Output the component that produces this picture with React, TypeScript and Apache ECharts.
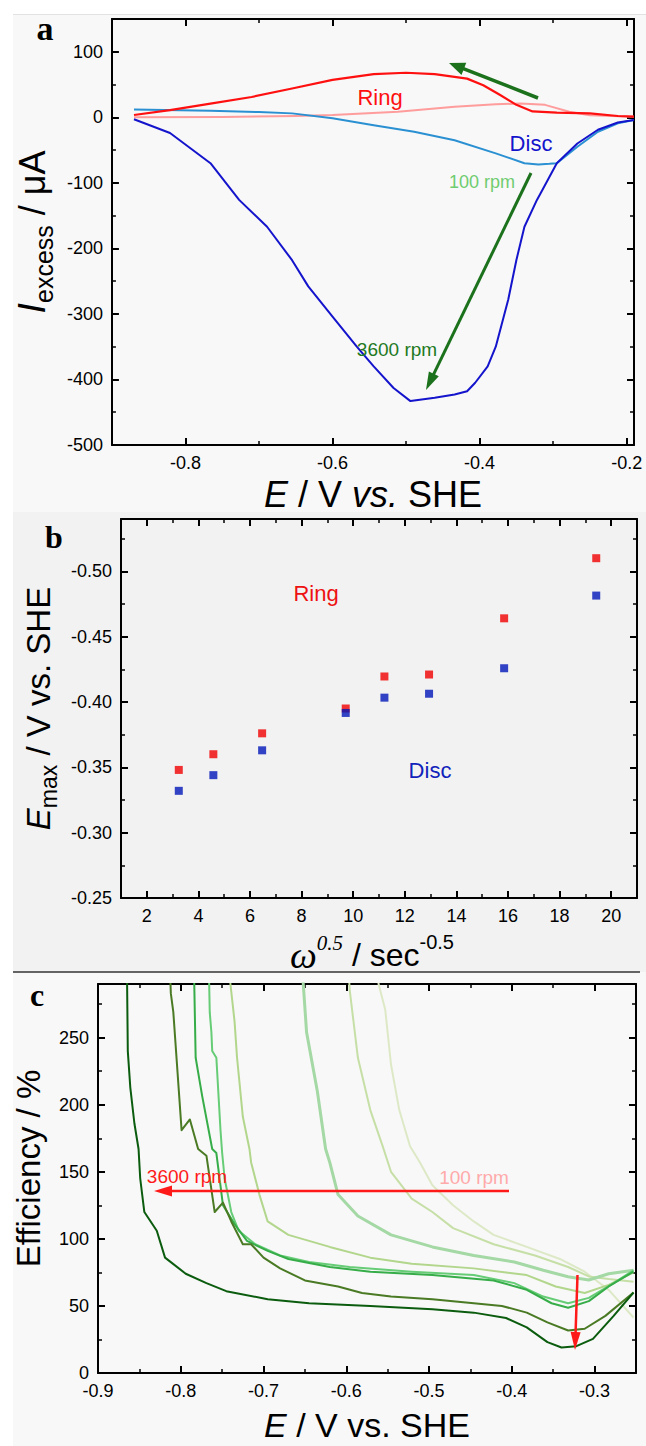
import React, { useEffect, useRef } from 'react';
import * as echarts from 'echarts';

// ---------- Panel a : excess current vs potential ----------
const ringFastE = [-0.870, -0.821, -0.766, -0.710, -0.655, -0.600, -0.544, -0.500, -0.461, -0.417, -0.395, -0.372, -0.350, -0.328, -0.295, -0.250, -0.212, -0.190];
const ringFastI = [3.5, 11, 21, 31, 44, 57, 66, 68, 66, 59, 49, 34, 19, 9, 7, 6, 2, 1];

const ringSlowE = [-0.870, -0.750, -0.650, -0.600, -0.511, -0.434, -0.378, -0.344, -0.311, -0.278, -0.250, -0.190];
const ringSlowI = [0, 0.5, 2, 3.5, 8.5, 16, 20, 21, 19, 8.5, 3, 1];

const discSlowE = [-0.870, -0.766, -0.700, -0.655, -0.600, -0.544, -0.489, -0.434, -0.378, -0.339, -0.320, -0.305, -0.295, -0.267, -0.239, -0.212, -0.190];
const discSlowI = [12, 10, 8, 6, -1.5, -12, -22, -35, -55, -70, -72, -71, -70, -45, -22, -9, -4];

const discFastE = [-0.870, -0.821, -0.766, -0.727, -0.689, -0.655, -0.633, -0.600, -0.567, -0.544, -0.517, -0.494, -0.461, -0.434, -0.417, -0.406, -0.389, -0.378, -0.361, -0.350, -0.339, -0.322, -0.317, -0.295, -0.267, -0.239, -0.212, -0.190];
const discFastI = [-3, -24, -70, -126, -167, -218, -258, -304, -350, -380, -413, -433, -428, -423, -418, -405, -380, -350, -278, -218, -167, -126, -116, -70, -40, -19, -8, -4];

const aXTicks = [-0.8, -0.6, -0.4, -0.2];
const aXMinor = [-0.7, -0.5, -0.3];
const aYTicks = [-500, -400, -300, -200, -100, 0, 100];
const aYMinor = [-450, -350, -250, -150, -50, 50];

// ---------- Panel b : E_max vs omega^0.5 ----------
const omegaSqrt = [3.24, 4.58, 6.47, 9.71, 11.21, 12.94, 15.85, 19.42];
const ringEmax = [-0.348, -0.360, -0.376, -0.395, -0.4195, -0.421, -0.464, -0.510];
const discEmax = [-0.332, -0.344, -0.363, -0.3916, -0.4033, -0.4063, -0.4258, -0.4814];

const bXTicks = [2, 4, 6, 8, 10, 12, 14, 16, 18, 20];
const bXMinor = [3, 5, 7, 9, 11, 13, 15, 17, 19];
const bYTicks = [-0.50, -0.45, -0.40, -0.35, -0.30, -0.25];
const bYMinor = [-0.525, -0.475, -0.425, -0.375, -0.325, -0.275];

// ---------- Panel c : efficiency vs potential ----------
const c3600E = [-0.865, -0.864, -0.861, -0.856, -0.851, -0.849, -0.844, -0.829, -0.819, -0.794, -0.769, -0.745, -0.695, -0.645, -0.571, -0.496, -0.446, -0.407, -0.382, -0.357, -0.340, -0.322, -0.302, -0.277, -0.253];
const c3600V = [300, 240, 213, 186, 167, 145, 120, 106, 86, 74, 67, 61, 55, 52, 50, 47.5, 45, 41, 34, 23, 19, 20, 25.5, 42.6, 60];

const c2400E = [-0.813, -0.812, -0.809, -0.799, -0.789, -0.779, -0.769, -0.759, -0.749, -0.739, -0.725, -0.715, -0.700, -0.680, -0.650, -0.610, -0.581, -0.546, -0.496, -0.446, -0.412, -0.382, -0.357, -0.332, -0.312, -0.287, -0.253];
const c2400V = [300, 283, 269, 181, 189, 167, 162, 120, 127, 113, 96, 96, 86, 78, 69, 64.5, 59.6, 57, 55, 52, 50, 45, 37.7, 31.7, 33, 42.6, 60];

const c1600E = [-0.784, -0.782, -0.774, -0.762, -0.757, -0.749, -0.735, -0.720, -0.695, -0.670, -0.620, -0.571, -0.496, -0.422, -0.382, -0.352, -0.332, -0.307, -0.283, -0.253];
const c1600V = [300, 235, 206, 167, 164, 125, 111, 98.5, 91, 85, 79, 75.5, 73, 69, 62, 52, 48.7, 53.6, 64.5, 75.5];

const c1200E = [-0.766, -0.765, -0.763, -0.762, -0.757, -0.752, -0.750, -0.747, -0.739, -0.730, -0.710, -0.680, -0.645, -0.596, -0.521, -0.446, -0.397, -0.362, -0.332, -0.307, -0.277, -0.253];
const c1200V = [300, 269, 254, 240, 235, 181, 164, 145, 120, 106, 96, 87.6, 82.8, 79, 75.5, 73, 67, 57, 52, 56, 67, 76.6];

const c900E = [-0.741, -0.740, -0.735, -0.732, -0.725, -0.717, -0.715, -0.705, -0.695, -0.670, -0.620, -0.571, -0.521, -0.446, -0.382, -0.347, -0.312, -0.283, -0.253];
const c900V = [300, 290, 262, 235, 191, 167, 157, 133, 113, 103, 94, 86, 81.5, 78, 73, 64.5, 59.6, 65.7, 75];

const c400E = [-0.653, -0.652, -0.648, -0.635, -0.625, -0.620, -0.610, -0.586, -0.546, -0.496, -0.446, -0.397, -0.362, -0.332, -0.307, -0.283, -0.253];
const c400V = [300, 290, 254, 210, 167, 157, 133, 117, 103, 94, 87.6, 82.8, 76.6, 71.8, 69.3, 74, 76.6];

const c200E = [-0.597, -0.596, -0.586, -0.571, -0.556, -0.546, -0.521, -0.496, -0.471, -0.422, -0.372, -0.332, -0.307, -0.283, -0.253];
const c200V = [300, 286, 235, 196, 169, 150, 130, 120, 108, 96, 87.6, 79, 72, 70, 68];

const c100E = [-0.562, -0.561, -0.553, -0.546, -0.536, -0.523, -0.511, -0.496, -0.471, -0.446, -0.422, -0.382, -0.342, -0.312, -0.283, -0.253];
const c100V = [300, 290, 271, 230, 196, 169, 157, 140, 125, 113, 103, 94, 85, 75.5, 62, 41.4];

const cXTicks = [-0.9, -0.8, -0.7, -0.6, -0.5, -0.4, -0.3];
const cXMinor = [-0.85, -0.75, -0.65, -0.55, -0.45, -0.35, -0.25];
const cYTicks = [0, 50, 100, 150, 200, 250];
const cYMinor = [25, 75, 125, 175, 225, 275];

const FONT = '"Liberation Sans", Arial, Helvetica, sans-serif';
const SERIF = '"Liberation Serif", "Times New Roman", serif';

const zip = (xs: number[], ys: number[]) => xs.map((x, i) => [x, ys[i]]);

function axisSet(
  gridIndex: number,
  position: string,
  min: number,
  max: number,
  majors: number[],
  minors: number[],
  showLabels: boolean,
  fmt: (v: number) => string,
  extra: any = {}
) {
  const base: any = {
    type: 'value',
    gridIndex,
    position,
    min,
    max,
    inverse: !!extra.inverse,
    splitLine: { show: false },
    axisPointer: { show: false },
  };
  const major: any = {
    ...base,
    axisLine: { show: true, onZero: false, lineStyle: { color: '#000', width: 2 } },
    axisTick: { show: true, inside: true, length: 7, customValues: majors, lineStyle: { color: '#000', width: 2 } },
    axisLabel: {
      show: showLabels,
      customValues: majors,
      formatter: fmt,
      color: '#000',
      fontSize: 18,
      fontFamily: FONT,
      margin: 9,
    },
  };
  if (extra.name) {
    major.name = extra.name;
    major.nameLocation = 'middle';
    major.nameGap = extra.nameGap;
    major.nameTextStyle = extra.nameTextStyle;
  }
  const minor: any = {
    ...base,
    axisLine: { show: false, onZero: false },
    axisTick: { show: true, inside: true, length: 4, customValues: minors, lineStyle: { color: '#000', width: 1.5 } },
    axisLabel: { show: false },
  };
  return [major, minor];
}

function arrow(x1: number, y1: number, x2: number, y2: number, color: string, lw: number, hl: number, hw: number) {
  const dx = x2 - x1;
  const dy = y2 - y1;
  const L = Math.hypot(dx, dy);
  const ux = dx / L;
  const uy = dy / L;
  const bx = x2 - ux * hl;
  const by = y2 - uy * hl;
  const px = (-uy * hw) / 2;
  const py = (ux * hw) / 2;
  return [
    {
      type: 'line',
      silent: true,
      z: 20,
      shape: { x1, y1, x2: bx + ux * 2, y2: by + uy * 2 },
      style: { stroke: color, lineWidth: lw },
    },
    {
      type: 'polygon',
      silent: true,
      z: 20,
      shape: { points: [[x2, y2], [bx + px, by + py], [bx - px, by - py]] },
      style: { fill: color },
    },
  ];
}

function label(x: number, y: number, text: string, color: string, size: number, family = FONT, weight = 'normal') {
  return {
    type: 'text',
    x,
    y,
    z: 20,
    silent: true,
    style: {
      text,
      fill: color,
      fontSize: size,
      fontFamily: family,
      fontWeight: weight,
      align: 'center',
      verticalAlign: 'middle',
    },
  };
}

const f1 = (v: number) => v.toFixed(1);
const f2 = (v: number) => v.toFixed(2);
const f0 = (v: number) => String(Math.round(v));

export default function App() {
  const ref = useRef<HTMLDivElement>(null);

  useEffect(() => {
    if (!ref.current) return;
    const chart = echarts.init(ref.current, undefined, { renderer: 'svg' });

    const xAxis = [
      // grid a
      ...axisSet(0, 'bottom', -0.9, -0.19, aXTicks, aXMinor, true, f1, {
        name: '{i|E}{n| / V }{i|vs.}{n| SHE}',
        nameGap: 29,
        nameTextStyle: {
          color: '#000',
          fontSize: 36,
          fontFamily: FONT,
          lineHeight: 40,
          rich: {
            i: { fontStyle: 'italic', fontSize: 36, fontFamily: FONT, lineHeight: 40, color: '#000' },
            n: { fontSize: 36, fontFamily: FONT, lineHeight: 40, color: '#000' },
          },
        },
      }),
      ...axisSet(0, 'top', -0.9, -0.19, aXTicks, aXMinor, false, f1),
      // grid b
      ...axisSet(1, 'bottom', 1, 21, bXTicks, bXMinor, true, f0, {
        name: '{w|ω}{ws|0.5}{n| / sec}{s|-0.5}',
        nameGap: 34,
        nameTextStyle: {
          color: '#000',
          fontSize: 32,
          fontFamily: FONT,
          lineHeight: 46,
          padding: [0, 14, 0, 0],
          rich: {
            w: { fontFamily: SERIF, fontStyle: 'italic', fontSize: 38, lineHeight: 46, color: '#000' },
            ws: { fontFamily: SERIF, fontStyle: 'italic', fontSize: 21, lineHeight: 32, verticalAlign: 'top', color: '#000' },
            n: { fontFamily: FONT, fontSize: 32, lineHeight: 46, color: '#000' },
            s: { fontFamily: FONT, fontSize: 20, lineHeight: 32, verticalAlign: 'top', color: '#000' },
          },
        },
      }),
      ...axisSet(1, 'top', 1, 21, bXTicks, bXMinor, false, f0),
      // grid c
      ...axisSet(2, 'bottom', -0.9, -0.25, cXTicks, cXMinor, true, f1, {
        name: '{i|E}{n| / V vs. SHE}',
        nameGap: 32,
        nameTextStyle: {
          color: '#000',
          fontSize: 34,
          fontFamily: FONT,
          lineHeight: 40,
          rich: {
            i: { fontStyle: 'italic', fontSize: 34, fontFamily: FONT, lineHeight: 40, color: '#000' },
            n: { fontSize: 34, fontFamily: FONT, lineHeight: 40, color: '#000' },
          },
        },
      }),
      ...axisSet(2, 'top', -0.9, -0.25, cXTicks, cXMinor, false, f1),
    ];

    const yAxis = [
      ...axisSet(0, 'left', -500, 150, aYTicks, aYMinor, true, f0, {
        name: '{i|I}{sub|excess}{n| / μA}',
        nameGap: 45,
        nameTextStyle: {
          color: '#000',
          fontSize: 36,
          fontFamily: FONT,
          lineHeight: 48,
          rich: {
            i: { fontStyle: 'italic', fontSize: 38, fontFamily: FONT, lineHeight: 48, color: '#000' },
            sub: { fontSize: 25, fontFamily: FONT, lineHeight: 25, verticalAlign: 'bottom', color: '#000' },
            n: { fontSize: 36, fontFamily: FONT, lineHeight: 48, color: '#000' },
          },
        },
      }),
      ...axisSet(0, 'right', -500, 150, aYTicks, aYMinor, false, f0),
      ...axisSet(1, 'left', -0.54, -0.25, bYTicks, bYMinor, true, f2, {
        inverse: true,
        name: '{i|E}{sub|max}{n| / V vs. SHE}',
        nameGap: 59,
        nameTextStyle: {
          color: '#000',
          fontSize: 33,
          fontFamily: FONT,
          lineHeight: 44,
          rich: {
            i: { fontStyle: 'italic', fontSize: 33, fontFamily: FONT, lineHeight: 44, color: '#000' },
            sub: { fontSize: 23, fontFamily: FONT, lineHeight: 23, verticalAlign: 'bottom', color: '#000' },
            n: { fontSize: 33, fontFamily: FONT, lineHeight: 44, color: '#000' },
          },
        },
      }),
      ...axisSet(1, 'right', -0.54, -0.25, bYTicks, bYMinor, false, f2, { inverse: true }),
      ...axisSet(2, 'left', 0, 290, cYTicks, cYMinor, true, f0, {
        name: 'Efficiency / %',
        nameGap: 43,
        nameTextStyle: {
          color: '#000',
          fontSize: 33,
          fontFamily: FONT,
          lineHeight: 40,
          padding: [0, 0, 0, 20],
        },
      }),
      ...axisSet(2, 'right', 0, 290, cYTicks, cYMinor, false, f0),
    ];

    const lineSeries = (data: number[][], color: string, width: number, xi: number, yi: number, z = 2) => ({
      type: 'line',
      xAxisIndex: xi,
      yAxisIndex: yi,
      data,
      showSymbol: false,
      symbol: 'none',
      smooth: false,
      clip: true,
      z,
      lineStyle: { color, width, join: 'round' },
      itemStyle: { color },
      silent: true,
    });

    const series: any[] = [
      lineSeries(zip(ringSlowE, ringSlowI), '#ff9c9c', 2, 0, 0),
      lineSeries(zip(discSlowE, discSlowI), '#2a90d2', 2, 0, 0),
      lineSeries(zip(ringFastE, ringFastI), '#ff1010', 2.2, 0, 0, 3),
      lineSeries(zip(discFastE, discFastI), '#1414cc', 2, 0, 0, 3),
      {
        type: 'scatter',
        xAxisIndex: 4,
        yAxisIndex: 4,
        data: zip(omegaSqrt, ringEmax),
        symbol: 'rect',
        symbolSize: 8,
        itemStyle: { color: '#f00000' },
        silent: true,
      },
      {
        type: 'scatter',
        xAxisIndex: 4,
        yAxisIndex: 4,
        data: zip(omegaSqrt, discEmax),
        symbol: 'rect',
        symbolSize: 8,
        itemStyle: { color: '#0016b8' },
        silent: true,
      },
      lineSeries(zip(c100E, c100V), '#dde9c6', 2, 8, 8),
      lineSeries(zip(c200E, c200V), '#c6dfa6', 2, 8, 8),
      lineSeries(zip(c400E, c400V), '#a4d8a4', 3, 8, 8),
      lineSeries(zip(c900E, c900V), '#b2d68c', 2, 8, 8),
      lineSeries(zip(c1200E, c1200V), '#66cc76', 2, 8, 8),
      lineSeries(zip(c1600E, c1600V), '#36ad48', 2, 8, 8),
      lineSeries(zip(c2400E, c2400V), '#4a7a24', 2, 8, 8),
      lineSeries(zip(c3600E, c3600V), '#0b5c0e', 2, 8, 8),
    ];

    const graphic: any[] = [
      { type: 'rect', silent: true, z: -10, shape: { x: 13, y: 14, width: 633, height: 1432 }, style: { fill: '#f8f8f8' } },
      { type: 'rect', silent: true, z: -9, shape: { x: 13, y: 512, width: 633, height: 460 }, style: { fill: '#f2f2f2' } },
      { type: 'line', silent: true, z: -8, shape: { x1: 13, y1: 14.5, x2: 646, y2: 14.5 }, style: { stroke: '#e2e2e2', lineWidth: 1 } },
      { type: 'line', silent: true, z: 5, shape: { x1: 13, y1: 972, x2: 640, y2: 972 }, style: { stroke: '#333', lineWidth: 1.5 } },
      label(45, 28, 'a', '#000', 34, SERIF, 'bold'),
      label(54, 537, 'b', '#000', 32, SERIF, 'bold'),
      label(37, 995, 'c', '#000', 32, SERIF, 'bold'),
      // panel a annotations
      label(380, 97, 'Ring', '#ff1010', 22),
      label(531, 143, 'Disc', '#1414cc', 22),
      label(482, 182, '100 rpm', '#6fcc6f', 18),
      label(397, 349, '3600 rpm', '#1f7a1f', 19),
      ...arrow(538, 98, 449, 63, '#1c721c', 3.5, 16, 13),
      ...arrow(531, 173, 426, 390, '#1c721c', 3, 18, 11),
      // panel b annotations
      label(316, 593, 'Ring', '#ee1111', 22),
      label(430, 770, 'Disc', '#1122bb', 22),
      // panel c annotations
      label(187, 1176, '3600 rpm', '#ff1a1a', 19),
      label(474, 1177, '100 rpm', '#ffaaaa', 19),
      ...arrow(509, 1191, 154, 1191, '#ff1a1a', 2.5, 18, 11),
      ...arrow(577.5, 1275, 575, 1350, '#ff1a1a', 2.5, 18, 10),
    ];

    chart.setOption({
      animation: false,
      backgroundColor: '#ffffff',
      grid: [
        { left: 106, top: 19, width: 528, height: 426 },
        { left: 121, top: 519, width: 516, height: 379 },
        { left: 98, top: 984, width: 538, height: 398 },
      ],
      xAxis,
      yAxis,
      series,
      graphic,
    });

    return () => {
      chart.dispose();
    };
  }, []);

  return (
    <div
      ref={ref}
      style={{ position: 'absolute', left: 0, top: 0, width: 646, height: 1446 }}
    />
  );
}
